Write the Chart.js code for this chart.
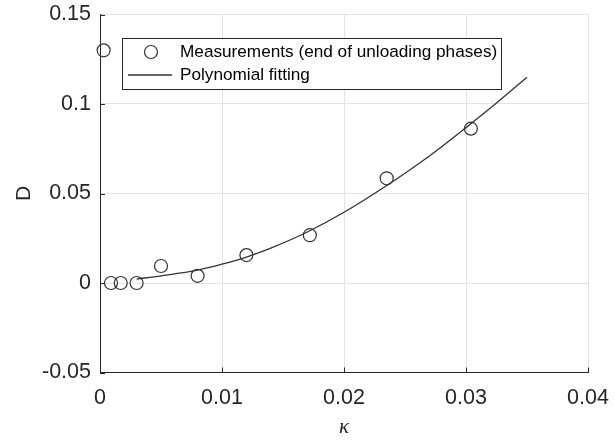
<!DOCTYPE html>
<html>
<head>
<meta charset="utf-8">
<script src="https://cdn.jsdelivr.net/npm/chart.js@4.4.1/dist/chart.umd.min.js"></script>
<style>
  html, body { margin: 0; padding: 0; background: #fff; }
  canvas { display: block; }
</style>
</head>
<body>
<canvas id="chart" width="615" height="442"></canvas>
<script>
// measured points (end of unloading phases)
const kappaMeas = [0.0003, 0.0009, 0.0017, 0.0030, 0.0050, 0.0080, 0.0120, 0.0172, 0.0235, 0.0304];
const dMeas     = [0.1300, 0.0000, 0.0000, 0.0000, 0.0095, 0.0040, 0.0156, 0.0267, 0.0585, 0.0862];

// fitted curve
const kappaFit = [0.003, 0.005, 0.008, 0.010, 0.012, 0.014, 0.017, 0.020, 0.0235, 0.027, 0.030, 0.0325, 0.035];
const dFit     = [0.0022, 0.0040, 0.0072, 0.0105, 0.0145, 0.0195, 0.0285, 0.0395, 0.0545, 0.0710, 0.0868, 0.1005, 0.1150];

const xTickLabels = ['0', '0.01', '0.02', '0.03', '0.04'];
const yTickLabels = ['-0.05', '0', '0.05', '0.1', '0.15'];

const AXIS_COL = '#262626';
const GRID_COL = '#e3e3e3';
const FONT     = 'Liberation Sans, Arial, sans-serif';

const toXY = (xs, ys) => xs.map((x, i) => ({ x, y: ys[i] }));

// MATLAB-style inward tick marks
const innerTicks = {
    id: 'innerTicks',
    afterDatasetsDraw(chart) {
        const { ctx, chartArea: a, scales: { x, y } } = chart;
        ctx.save();
        ctx.strokeStyle = AXIS_COL;
        ctx.lineWidth = 1;
        ctx.beginPath();
        x.ticks.forEach(t => {
            const px = Math.round(x.getPixelForValue(t.value)) + 0.5;
            ctx.moveTo(px, a.bottom); ctx.lineTo(px, a.bottom - 5);
        });
        y.ticks.forEach(t => {
            const py = Math.round(y.getPixelForValue(t.value)) + 0.5;
            ctx.moveTo(a.left, py); ctx.lineTo(a.left + 5, py);
        });
        ctx.stroke();
        ctx.restore();
    }
};

// legend box inside the axes, top-left
const insideLegend = {
    id: 'insideLegend',
    afterDraw(chart) {
        const { ctx, chartArea: a } = chart;
        const ds = chart.data.datasets;
        const L = a.left + 22, T = a.top + 23.5, W = 379, H = 51;
        ctx.save();
        ctx.fillStyle = '#fff';
        ctx.fillRect(L, T, W, H);
        ctx.strokeStyle = AXIS_COL;
        ctx.lineWidth = 1;
        ctx.strokeRect(L + 0.5, T + 0.5, W, H);

        ctx.font = '17.2px ' + FONT;
        ctx.fillStyle = '#000';
        ctx.textBaseline = 'middle';
        ctx.textAlign = 'left';

        // row 1: marker
        ctx.strokeStyle = '#333';
        ctx.lineWidth = 1.2;
        ctx.beginPath();
        ctx.arc(L + 29, T + 14, 6.5, 0, Math.PI * 2);
        ctx.stroke();
        ctx.fillText(ds[0].label, L + 58, T + 14);

        // row 2: line
        ctx.lineWidth = 1.3;
        ctx.beginPath();
        ctx.moveTo(L + 6, T + 37);
        ctx.lineTo(L + 50, T + 37);
        ctx.stroke();
        ctx.fillText(ds[1].label, L + 58, T + 37);
        ctx.restore();
    }
};

new Chart(document.getElementById('chart'), {
    data: {
        datasets: [
            {
                type: 'scatter',
                label: 'Measurements (end of unloading phases)',
                data: toXY(kappaMeas, dMeas),
                pointStyle: 'circle',
                pointRadius: 6.5,
                pointHoverRadius: 6.5,
                borderColor: '#333',
                backgroundColor: 'rgba(0,0,0,0)',
                borderWidth: 1.2,
                clip: false
            },
            {
                type: 'line',
                label: 'Polynomial fitting',
                data: toXY(kappaFit, dFit),
                borderColor: '#333',
                borderWidth: 1.3,
                pointRadius: 0,
                fill: false,
                cubicInterpolationMode: 'monotone'
            }
        ]
    },
    options: {
        responsive: false,
        animation: false,
        layout: { padding: { top: 14.5, right: 27, left: 0, bottom: 0 } },
        plugins: {
            legend: { display: false },
            tooltip: { enabled: false }
        },
        scales: {
            x: {
                type: 'linear',
                min: 0, max: 0.04,
                ticks: {
                    stepSize: 0.01,
                    color: AXIS_COL,
                    font: { family: FONT, size: 21.5 },
                    padding: 13,
                    maxRotation: 0,
                    callback: (v, i) => xTickLabels[i]
                },
                grid: { color: GRID_COL, drawTicks: false },
                border: { display: true, color: AXIS_COL, width: 1 },
                title: {
                    display: true,
                    text: 'κ',
                    color: AXIS_COL,
                    font: { family: 'Liberation Serif, DejaVu Serif, serif', size: 21, style: 'italic' },
                    padding: { top: 0, bottom: 2 }
                },
                afterFit: s => { s.height = 69.5; s.paddingLeft = 0; s.paddingRight = 0; }
            },
            y: {
                type: 'linear',
                min: -0.05, max: 0.15,
                ticks: {
                    stepSize: 0.05,
                    color: AXIS_COL,
                    font: { family: FONT, size: 21.5 },
                    padding: 9,
                    callback: (v, i) => yTickLabels[i]
                },
                grid: { color: GRID_COL, drawTicks: false },
                border: { display: true, color: AXIS_COL, width: 1 },
                title: {
                    display: true,
                    text: 'D',
                    color: AXIS_COL,
                    font: { family: FONT, size: 21 },
                    padding: { top: 12, bottom: 0 }
                },
                afterFit: s => { s.width = 100; s.paddingTop = 0; s.paddingBottom = 0; }
            }
        }
    },
    plugins: [innerTicks, insideLegend]
});
</script>
</body>
</html>
